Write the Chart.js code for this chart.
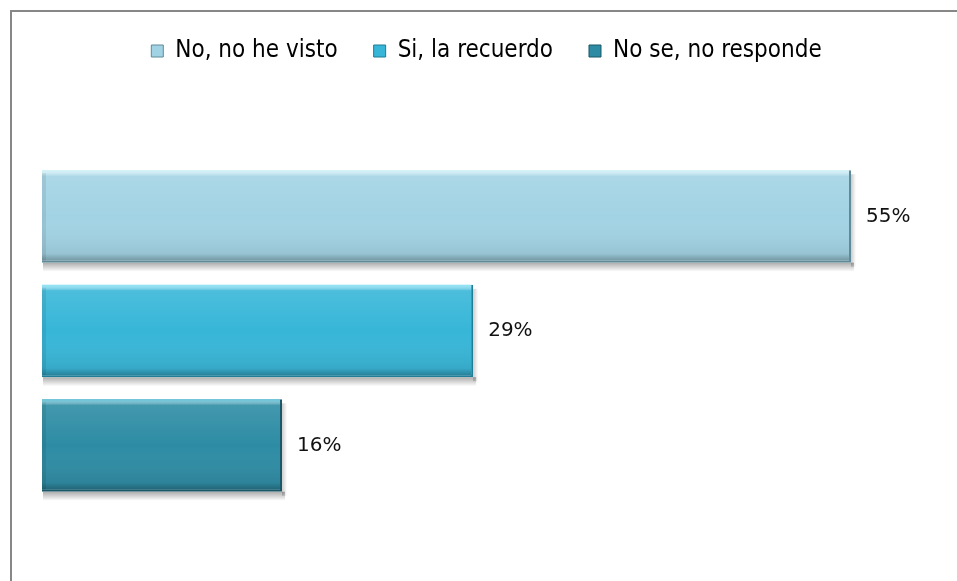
<!DOCTYPE html>
<html>
<head>
<meta charset="utf-8">
<script src="https://cdn.jsdelivr.net/npm/chart.js@4/dist/chart.umd.min.js"></script>
<style>
  html, body { margin: 0; padding: 0; background: #fff; }
  #wrap { position: relative; width: 957px; height: 581px; overflow: hidden; }
  #frame { position: absolute; left: 10px; top: 10px; width: 960px; height: 600px;
           border-left: 2px solid #878787; border-top: 2px solid #878787; }
  canvas { position: absolute; left: 0; top: 0; }
</style>
</head>
<body>
<div id="wrap">
  <div id="frame"></div>
  <canvas id="BarChart" width="957" height="581"></canvas>
</div>
<script>
// values (percent)
var seriesNames = ['No, no he visto', 'Si, la recuerdo', 'No se, no responde'];
var seriesValues = [54.6, 29.1, 16.2];
var categories = [''];

var fillColors = ['#a2d3e4', '#37b6d8', '#2d8ca4'];
var edgeColors = ['#5f8a98', '#1f7d96', '#1b5666'];
var lightColors = ['#d4f4fb', '#8fe4f6', '#5fc4dc'];

var datasets = [];
for (var i = 0; i < seriesNames.length; i++) {
  datasets.push({
    label: seriesNames[i],
    data: [seriesValues[i]],
    backgroundColor: fillColors[i],
    borderColor: edgeColors[i],
    borderWidth: { top: 0, left: 0, right: 2, bottom: 2 },
    borderSkipped: false
  });
}

// soft shadow under each bar, drawn before the bars
var shadowPlugin = {
  id: 'barShadow',
  beforeDatasetsDraw: function (chart) {
    var c = chart.ctx;
    chart.data.datasets.forEach(function (ds, i) {
      chart.getDatasetMeta(i).data.forEach(function (bar) {
        var bottom = bar.y + bar.height / 2;
        var g = c.createLinearGradient(0, bottom, 0, bottom + 9);
        g.addColorStop(0, 'rgba(0,0,0,0.32)');
        g.addColorStop(1, 'rgba(0,0,0,0)');
        c.save();
        c.fillStyle = g;
        c.fillRect(bar.base + 1, bottom, bar.x - bar.base + 2, 9);
        var r = c.createLinearGradient(bar.x, 0, bar.x + 5, 0);
        r.addColorStop(0, 'rgba(0,0,0,0.2)');
        r.addColorStop(1, 'rgba(0,0,0,0)');
        c.fillStyle = r;
        c.fillRect(bar.x, bar.y - bar.height / 2 + 4, 5, bar.height);
        c.restore();
      });
    });
  }
};

// bevel look + value labels
var bevelPlugin = {
  id: 'bevel',
  afterDatasetsDraw: function (chart) {
    var c = chart.ctx;
    chart.data.datasets.forEach(function (ds, i) {
      var meta = chart.getDatasetMeta(i);
      meta.data.forEach(function (bar, j) {
        var left = bar.base, right = bar.x;
        var top = bar.y - bar.height / 2, bottom = bar.y + bar.height / 2;
        var w = right - left - 2;
        c.save();
        var g = c.createLinearGradient(0, top, 0, bottom);
        g.addColorStop(0, 'rgba(255,255,255,0.12)');
        g.addColorStop(0.5, 'rgba(255,255,255,0)');
        g.addColorStop(1, 'rgba(0,0,0,0.12)');
        c.fillStyle = g;
        c.fillRect(left, top, w, bottom - top - 2);
        // top highlight strip
        var h = c.createLinearGradient(0, top, 0, top + 6);
        h.addColorStop(0, lightColors[i]);
        h.addColorStop(1, 'rgba(255,255,255,0)');
        c.fillStyle = h;
        c.fillRect(left, top, w, 6);
        // left bevel edge
        c.fillStyle = 'rgba(0,0,0,0.08)';
        c.fillRect(left, top + 3, 4, bottom - top - 5);
        // darker bottom strip
        var b = c.createLinearGradient(0, bottom - 9, 0, bottom - 2);
        b.addColorStop(0, 'rgba(0,0,0,0)');
        b.addColorStop(1, 'rgba(0,0,0,0.2)');
        c.fillStyle = b;
        c.fillRect(left, bottom - 9, w, 7);
        // value label
        c.fillStyle = '#111';
        c.font = '20px "DejaVu Sans"';
        c.textBaseline = 'middle';
        c.textAlign = 'left';
        c.fillText(Math.round(ds.data[j]) + '%', right + 15, bar.y);
        c.restore();
      });
    });
  }
};

// push chart area down below the legend
var legendGap = {
  id: 'legendGap',
  beforeInit: function (chart) {
    var fit = chart.legend.fit;
    chart.legend.fit = function () {
      fit.bind(chart.legend)();
      this.height += 51;
    };
  }
};

var ctx = document.getElementById('BarChart').getContext('2d');
var myChart = new Chart(ctx, {
  type: 'bar',
  data: { labels: categories, datasets: datasets },
  plugins: [shadowPlugin, bevelPlugin, legendGap],
  options: {
    indexAxis: 'y',
    responsive: false,
    animation: false,
    categoryPercentage: 0.83,
    barPercentage: 0.807,
    layout: { padding: { left: 42, right: 26, top: 3, bottom: 43 } },
    scales: {
      x: { display: false, min: 0, max: 60 },
      y: { display: false }
    },
    plugins: {
      tooltip: { enabled: false },
      legend: {
        position: 'top',
        labels: {
          boxWidth: 12,
          boxHeight: 12,
          padding: 36,
          color: '#000',
          font: { family: '"DejaVu Sans Condensed"', size: 24 },
          generateLabels: function (chart) {
            return seriesNames.map(function (n, i) {
              return { text: n, fillStyle: fillColors[i], strokeStyle: edgeColors[i],
                       lineWidth: 1, datasetIndex: i };
            });
          }
        }
      }
    }
  }
});
</script>
</body>
</html>
